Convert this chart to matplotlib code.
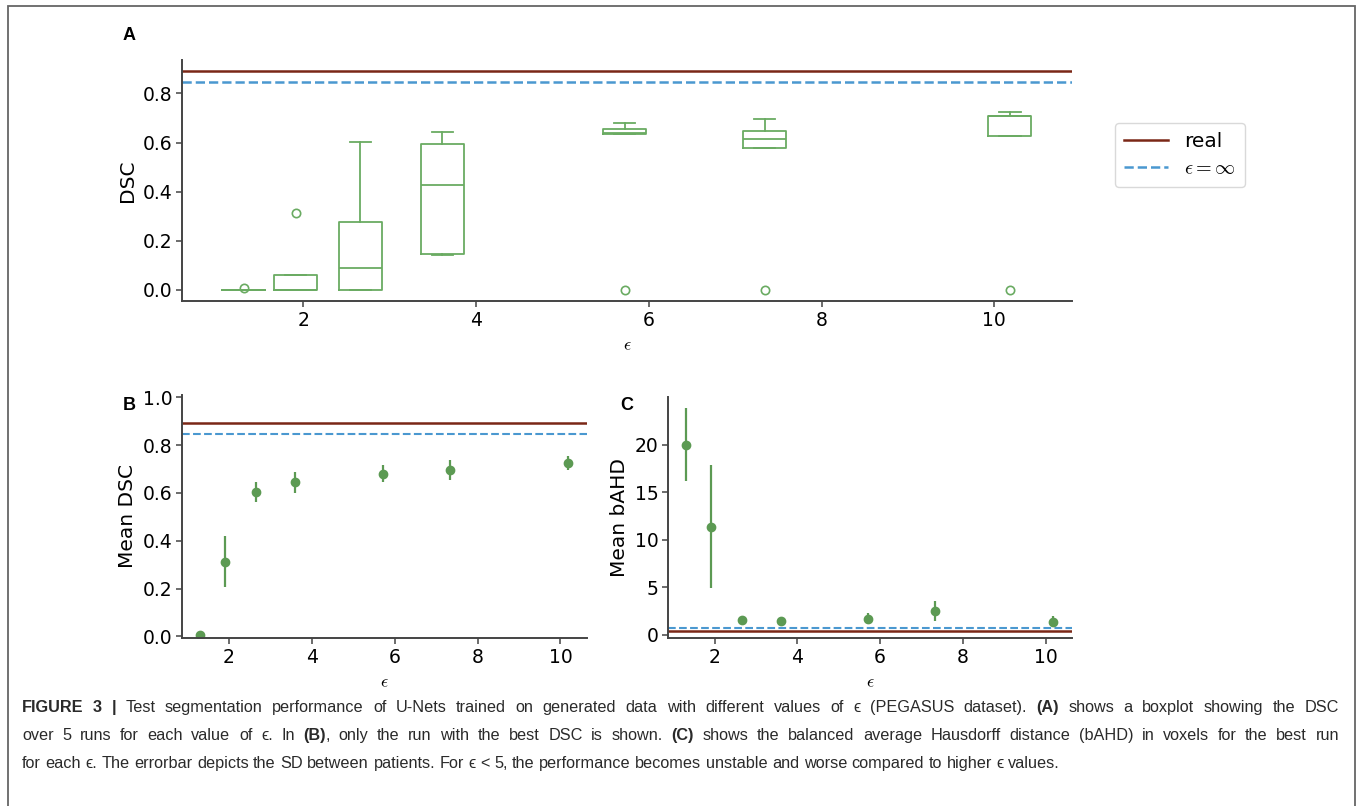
import matplotlib
matplotlib.use("Agg")
import matplotlib.pyplot as plt
import matplotlib.patches as mpatches
from matplotlib.lines import Line2D
import numpy as np

plt.rcParams['mathtext.fontset'] = 'cm'
plt.rcParams['font.family'] = ['DejaVu Sans']

# ---------------- data ----------------
eps = [1.31, 1.91, 2.66, 3.61, 5.72, 7.34, 10.18]

# DSC of the 5 runs for each epsilon (panel A)
dsc_e1 = [0.0, 0.0, 0.0, 0.0, 0.006]
dsc_e2 = [0.0, 0.0, 0.0, 0.06, 0.312]
dsc_e3 = [0.0, 0.0, 0.091, 0.278, 0.602]
dsc_e4 = [0.143, 0.145, 0.426, 0.593, 0.643]
dsc_e5 = [0.0, 0.635, 0.638, 0.654, 0.681]
dsc_e6 = [0.0, 0.579, 0.616, 0.647, 0.694]
dsc_e7 = [0.0, 0.625, 0.707, 0.707, 0.725]

# best run (panel B)
best_dsc = [0.005, 0.313, 0.604, 0.644, 0.681, 0.695, 0.726]
best_dsc_sd = [0.005, 0.105, 0.04, 0.045, 0.034, 0.041, 0.03]

# best run bAHD (panel C)
bahd = [20.0, 11.37, 1.51, 1.44, 1.68, 2.49, 1.37]
bahd_sd = [3.8, 6.5, 0.15, 0.12, 0.58, 1.1, 0.55]

real_dsc, inf_dsc = 0.891, 0.845
real_bahd, inf_bahd = 0.35, 0.66

# ---------------- style ----------------
W, H = 1360, 806
C_REAL = '#7a2716'
C_INF = '#4a98d0'
C_BOX = '#6aab62'
C_PT = '#5c9a53'
C_SPINE = '#444444'
TICK_FS = 13.5
LAB_FS = 14.5

fig = plt.figure(figsize=(W / 100, H / 100), dpi=100)


def ax_px(left, top, right, bottom):
    return fig.add_axes([left / W, 1 - bottom / H, (right - left) / W, (bottom - top) / H])


def style(ax):
    for s in ['top', 'right']:
        ax.spines[s].set_visible(False)
    for s in ['left', 'bottom']:
        ax.spines[s].set_color(C_SPINE)
        ax.spines[s].set_linewidth(1.4)
    ax.tick_params(labelsize=TICK_FS, length=4, width=1.1, color=C_SPINE, pad=3)
    ax.set_xticks([2, 4, 6, 8, 10])


# ---------------- panel A ----------------
axA = ax_px(182, 60, 1072, 301)
style(axA)
box_data = [dsc_e1, dsc_e2, dsc_e3, dsc_e4, dsc_e5, dsc_e6, dsc_e7]
lp = dict(color=C_BOX, linewidth=1.3)
axA.boxplot(box_data, positions=eps, widths=0.5, manage_ticks=False,
            boxprops=lp, whiskerprops=lp, capprops=lp, medianprops=lp,
            flierprops=dict(marker='o', markerfacecolor='none', markeredgecolor=C_BOX,
                            markersize=6, markeredgewidth=1.2))
axA.axhline(real_dsc, color=C_REAL, lw=1.8)
axA.axhline(inf_dsc, color=C_INF, lw=1.8, ls='--')
axA.set_xlim(0.595, 10.9)
axA.set_ylim(-0.045, 0.936)
axA.set_yticks([0.0, 0.2, 0.4, 0.6, 0.8])
axA.set_ylabel('DSC', fontsize=LAB_FS, labelpad=4)
axA.set_xlabel(r'$\epsilon$', fontsize=13, labelpad=5)

# ---------------- panel B ----------------
axB = ax_px(182, 395, 587, 638)
style(axB)
axB.axhline(real_dsc, color=C_REAL, lw=1.8)
axB.axhline(inf_dsc, color=C_INF, lw=1.5, ls='--')
axB.errorbar(eps, best_dsc, yerr=best_dsc_sd, fmt='o', color=C_PT, ms=6, elinewidth=1.6)
axB.set_xlim(0.875, 10.64)
axB.set_ylim(-0.007, 1.01)
axB.set_yticks([0.0, 0.2, 0.4, 0.6, 0.8, 1.0])
axB.set_ylabel('Mean DSC', fontsize=LAB_FS, labelpad=4)
axB.set_xlabel(r'$\epsilon$', fontsize=13, labelpad=5)

# ---------------- panel C ----------------
axC = ax_px(668, 397, 1072, 638)
style(axC)
axC.axhline(real_bahd, color=C_REAL, lw=1.8)
axC.axhline(inf_bahd, color=C_INF, lw=1.5, ls='--')
axC.errorbar(eps, bahd, yerr=bahd_sd, fmt='o', color=C_PT, ms=6, elinewidth=1.6)
axC.set_xlim(0.875, 10.64)
axC.set_ylim(-0.35, 25.0)
axC.set_yticks([0, 5, 10, 15, 20])
axC.set_ylabel('Mean bAHD', fontsize=LAB_FS, labelpad=4)
axC.set_xlabel(r'$\epsilon$', fontsize=13, labelpad=5)

# panel letters
for lab, x, y in [('A', 129, 35), ('B', 129, 405), ('C', 627, 405)]:
    fig.text(x / W, 1 - y / H, lab, fontsize=13, fontweight='bold',
             family=['Liberation Sans', 'DejaVu Sans'], ha='center', va='center')

# legend
handles = [Line2D([], [], color=C_REAL, lw=1.8),
           Line2D([], [], color=C_INF, lw=1.8, ls='--')]
fig.legend(handles, ['real', r'$\epsilon = \infty$'], loc='upper left',
           bbox_to_anchor=(1115 / W, 1 - 123 / H), fontsize=14.5, frameon=True,
           edgecolor='#d0d0d0', handlelength=2.2, handletextpad=0.8,
           borderpad=0.45, labelspacing=0.4, borderaxespad=0)

# outer frame
fig.patches.append(mpatches.Rectangle((8 / W, -0.02), 1347 / W, (806 - 6) / H + 0.02,
                                      transform=fig.transFigure, fill=False,
                                      edgecolor='#666666', lw=1.3))

# ---------------- caption ----------------
renderer = fig.canvas.get_renderer()
CAP_FS = 11.7
CAP_FAM = ['Liberation Sans Narrow', 'Liberation Sans', 'DejaVu Sans']
CAP_COL = '#2a2a2a'


def text_width(s, bold):
    kw = dict(fontsize=CAP_FS, family=CAP_FAM, fontweight='bold' if bold else 'normal')
    t = fig.text(0, 0, '|' + s + '|', **kw)
    w1 = t.get_window_extent(renderer).width
    t.remove()
    t = fig.text(0, 0, '||', **kw)
    w2 = t.get_window_extent(renderer).width
    t.remove()
    return w1 - w2


def words_of(pieces):
    words, cur = [], []
    for s, bold in pieces:
        parts = s.split(' ')
        for i, p in enumerate(parts):
            if i > 0:
                if cur:
                    words.append(cur)
                cur = []
            if p:
                cur.append((p, bold))
    if cur:
        words.append(cur)
    return words


SPACE_W = text_width(' ', False)


def rich_line(x0, y, pieces, right=None):
    words = words_of(pieces)
    widths = [sum(text_width(s, b) for s, b in w) for w in words]
    if right is not None and len(words) > 1:
        gap = (right - x0 - sum(widths)) / (len(words) - 1)
    else:
        gap = SPACE_W
    x = x0
    for w, ww in zip(words, widths):
        xx = x
        for s, b in w:
            fig.text(xx / W, 1 - y / H, s, fontsize=CAP_FS, family=CAP_FAM, color=CAP_COL,
                     fontweight='bold' if b else 'normal', va='baseline', ha='left')
            xx += text_width(s, b)
        x += ww + gap


cap1 = [('FIGURE 3', True), (' | ', True),
        ('Test segmentation performance of U-Nets trained on generated data with different values of ϵ (PEGASUS dataset). ', False),
        ('(A)', True), (' shows a boxplot showing the DSC', False)]
cap2 = [('over 5 runs for each value of ϵ. In ', False), ('(B)', True),
        (', only the run with the best DSC is shown. ', False), ('(C)', True),
        (' shows the balanced average Hausdorff distance (bAHD) in voxels for the best run', False)]
cap3 = [('for each ϵ. The errorbar depicts the SD between patients. For ϵ < 5, the performance becomes unstable and worse compared to higher ϵ values.', False)]

rich_line(22, 712, cap1, right=1339)
rich_line(22, 740, cap2, right=1339)
rich_line(22, 768, cap3)

fig.savefig('out.png', dpi=100)
